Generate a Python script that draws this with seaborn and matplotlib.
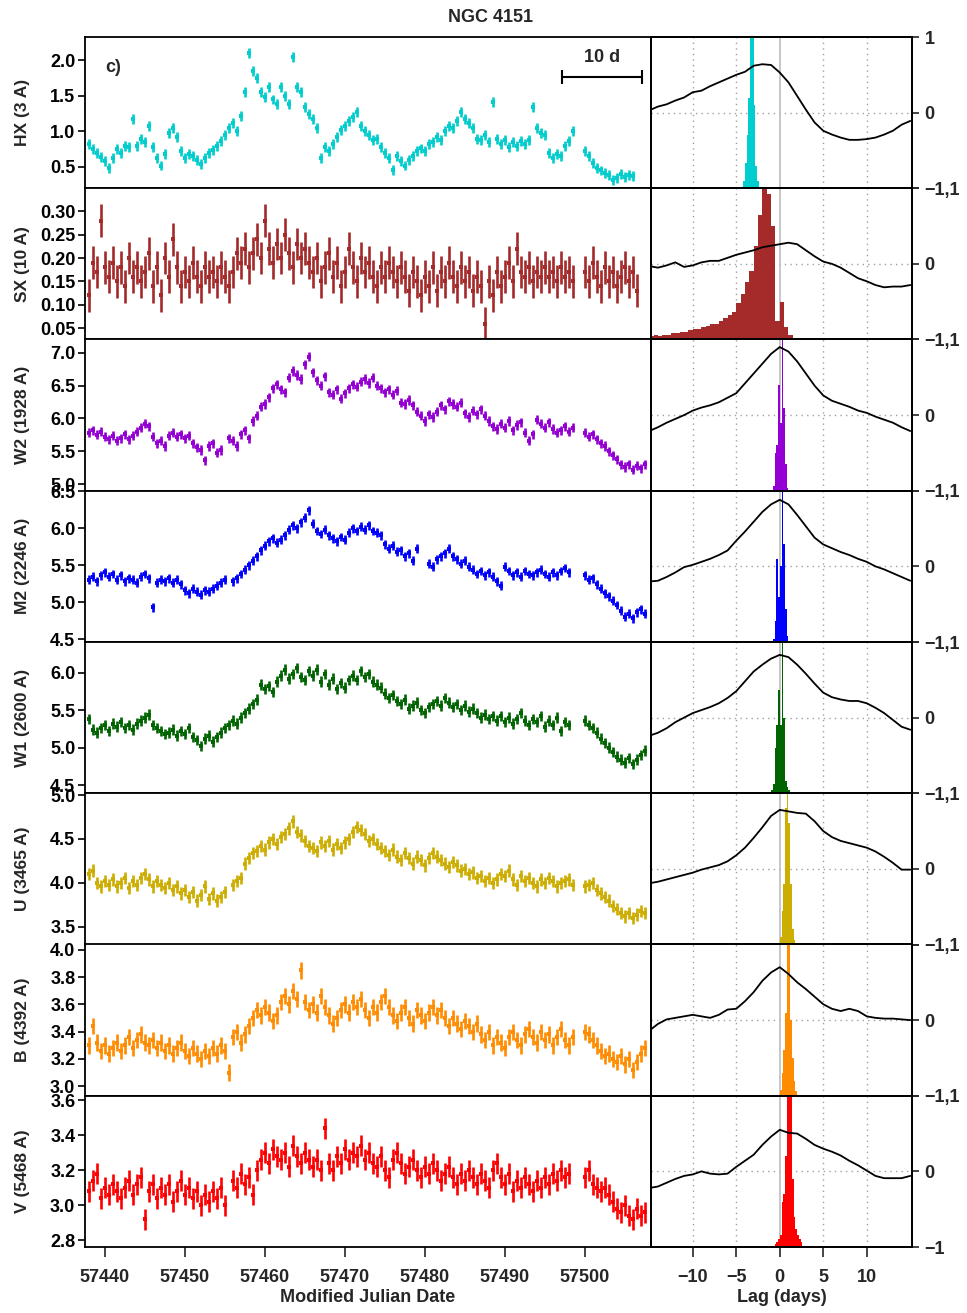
import numpy as np
import matplotlib
matplotlib.use("Agg")
import matplotlib.pyplot as plt
import seaborn as sns

NA = np.nan

# ---------------- data ----------------
MJD = [57438.0, 57438.5, 57439.0, 57439.5, 57440.0, 57440.5, 57441.0, 57441.5, 57442.0, 57442.5,
       57443.0, 57443.5, 57444.0, 57444.5, 57445.0, 57445.5, 57446.0, 57446.5, 57447.0, 57447.5,
       57448.0, 57448.5, 57449.0, 57449.5, 57450.0, 57450.5, 57451.0, 57451.5, 57452.0, 57452.5,
       57453.0, 57453.5, 57454.0, 57454.5, 57455.0, 57455.5, 57456.0, 57456.5, 57457.0, 57457.5,
       57458.0, 57458.5, 57459.0, 57459.5, 57460.0, 57460.5, 57461.0, 57461.5, 57462.0, 57462.5,
       57463.0, 57463.5, 57464.0, 57464.5, 57465.0, 57465.5, 57466.0, 57466.5, 57467.0, 57467.5,
       57468.0, 57468.5, 57469.0, 57469.5, 57470.0, 57470.5, 57471.0, 57471.5, 57472.0, 57472.5,
       57473.0, 57473.5, 57474.0, 57474.5, 57475.0, 57475.5, 57476.0, 57476.5, 57477.0, 57477.5,
       57478.0, 57478.5, 57479.0, 57479.5, 57480.0, 57480.5, 57481.0, 57481.5, 57482.0, 57482.5,
       57483.0, 57483.5, 57484.0, 57484.5, 57485.0, 57485.5, 57486.0, 57486.5, 57487.0, 57487.5,
       57488.0, 57488.5, 57489.0, 57489.5, 57490.0, 57490.5, 57491.0, 57491.5, 57492.0, 57492.5,
       57493.0, 57493.5, 57494.0, 57494.5, 57495.0, 57495.5, 57496.0, 57496.5, 57497.0, 57497.5,
       57498.0, 57498.5, 57499.0, 57499.5, 57500.0, 57500.5, 57501.0, 57501.5, 57502.0, 57502.5,
       57503.0, 57503.5, 57504.0, 57504.5, 57505.0, 57505.5, 57506.0, 57506.5, 57507.0, 57507.5]

HX = [0.82, 0.75, 0.70, 0.64, 0.58, 0.48, 0.62, 0.75, 0.70, 0.80,
      0.78, 1.18, 0.80, 0.90, 0.85, 1.08, 0.78, 0.62, 0.52, 0.68,
      0.98, 1.05, 0.92, 0.72, 0.62, 0.68, 0.66, 0.60, 0.54, 0.63,
      0.70, 0.74, 0.80, 0.86, 0.95, 1.05, 1.12, 1.00, 1.22, 1.55,
      2.10, 1.85, 1.75, 1.55, 1.48, 1.62, 1.45, 1.38, 1.62, 1.50,
      1.38, 2.05, 1.62, 1.55, 1.35, 1.25, 1.18, 1.05, 0.62, 0.78,
      0.72, 0.82, 0.92, 1.02, 1.08, 1.15, 1.20, 1.28, 1.08, 1.00,
      0.95, 0.88, 0.90, 0.78, 0.70, 0.62, 0.46, 0.65, 0.58, 0.52,
      0.60, 0.66, 0.72, 0.76, 0.72, 0.82, 0.85, 0.92, 0.88, 1.00,
      1.08, 1.05, 1.15, 1.28, 1.18, 1.12, 1.05, 0.90, 0.88, 0.95,
      0.85, 1.42, 0.90, 0.82, 0.88, 0.78, 0.85, 0.80, 0.86, 0.82,
      0.88, 1.35, 1.05, 0.98, 0.95, 0.70, 0.62, 0.68, 0.65, 0.80,
      0.86, 1.00, NA, NA, 0.72, 0.65, 0.55, 0.48, 0.45, 0.42,
      0.38, 0.32, 0.35, 0.40, 0.36, 0.38, 0.37, NA, NA, NA]

SX = [0.12, 0.19, 0.17, 0.28, 0.18, 0.16, 0.19, 0.15, 0.18, 0.14,
      0.20, 0.16, 0.18, 0.15, 0.17, 0.21, 0.14, 0.18, 0.12, 0.20,
      0.16, 0.24, 0.18, 0.14, 0.17, 0.15, 0.19, 0.16, 0.14, 0.18,
      0.16, 0.17, 0.15, 0.18, 0.16, 0.14, 0.17, 0.21, 0.19, 0.22,
      0.18, 0.21, 0.24, 0.20, 0.28, 0.22, 0.19, 0.23, 0.20, 0.25,
      0.21, 0.18, 0.23, 0.20, 0.22, 0.19, 0.17, 0.20, 0.15, 0.18,
      0.21, 0.16, 0.19, 0.14, 0.17, 0.22, 0.18, 0.15, 0.20, 0.17,
      0.19, 0.16, 0.14, 0.18, 0.16, 0.19, 0.17, 0.15, 0.18, 0.16,
      0.13, 0.17, 0.15, 0.12, 0.16, 0.14, 0.18, 0.13, 0.17, 0.15,
      0.19, 0.16, 0.14, 0.18, 0.15, 0.17, 0.13, 0.16, 0.14, 0.06,
      0.15, 0.12, 0.17, 0.14, 0.16, 0.19, 0.15, 0.22, 0.17, 0.16,
      0.18, 0.15, 0.17, 0.16, 0.18, 0.16, 0.17, 0.15, 0.18, 0.16,
      0.17, 0.15, NA, NA, 0.17, 0.15, 0.19, 0.16, 0.14, 0.18,
      0.15, 0.17, 0.14, 0.16, 0.18, 0.15, 0.17, 0.13, NA, NA]

W2 = [5.78, 5.82, 5.75, 5.80, 5.72, 5.68, 5.74, 5.66, 5.70, 5.76,
      5.68, 5.74, 5.80, 5.86, 5.92, 5.88, 5.72, 5.62, 5.66, 5.58,
      5.74, 5.78, 5.72, 5.76, 5.70, 5.74, 5.62, 5.56, 5.52, 5.36,
      5.58, 5.62, 5.48, 5.52, NA, 5.70, 5.66, 5.58, 5.76, 5.82,
      5.70, 5.96, 6.04, 6.18, 6.22, 6.32, 6.46, 6.52, 6.44, 6.40,
      6.62, 6.72, 6.66, 6.60, 6.82, 6.94, 6.70, 6.58, 6.50, 6.64,
      6.40, 6.36, 6.44, 6.30, 6.38, 6.46, 6.52, 6.48, 6.56, 6.60,
      6.54, 6.62, 6.50, 6.46, 6.40, 6.44, 6.36, 6.42, 6.24, 6.22,
      6.28, 6.20, 6.10, 6.04, 5.96, 6.06, 6.02, 6.10, 6.20, 6.14,
      6.26, 6.22, 6.18, 6.24, 6.08, 6.02, 6.12, 6.06, 6.14, 6.04,
      5.96, 5.88, 5.84, 5.92, 5.86, 5.96, 5.82, 5.90, 5.94, 5.78,
      5.66, 5.76, 5.98, 5.92, 5.86, 5.94, 5.84, 5.78, 5.82, 5.88,
      5.80, 5.86, NA, NA, 5.78, 5.72, 5.76, 5.68, 5.62, 5.58,
      5.50, 5.44, 5.38, 5.30, 5.26, 5.30, 5.22, 5.28, 5.24, 5.30]

M2 = [5.30, 5.34, 5.28, 5.36, 5.40, 5.34, 5.38, 5.30, 5.36, 5.28,
      5.32, 5.30, 5.26, 5.34, 5.38, 5.32, 4.93, 5.26, 5.30, 5.28,
      5.32, 5.26, 5.30, 5.24, 5.16, 5.12, 5.18, 5.14, 5.10, 5.16,
      5.14, 5.18, 5.22, 5.26, 5.30, NA, 5.28, 5.32, 5.38, 5.44,
      5.50, 5.56, 5.62, 5.70, 5.76, 5.82, 5.86, 5.80, 5.84, 5.90,
      5.98, 6.04, 6.00, 6.08, 6.14, 6.24, 6.06, 5.96, 5.92, 5.98,
      5.90, 5.86, 5.82, 5.88, 5.84, 5.94, 6.00, 5.96, 6.02, 5.98,
      6.04, 5.96, 5.94, 5.90, 5.78, 5.72, 5.76, 5.68, 5.70, 5.62,
      5.66, 5.56, 5.72, NA, NA, 5.52, 5.48, 5.58, 5.62, 5.66,
      5.72, 5.62, 5.58, 5.52, 5.56, 5.48, 5.44, 5.38, 5.42, 5.36,
      5.40, 5.34, 5.28, 5.22, 5.48, 5.42, 5.36, 5.40, 5.34, 5.42,
      5.38, 5.36, 5.40, 5.44, 5.38, 5.34, 5.40, 5.36, 5.42, 5.46,
      5.40, NA, NA, NA, 5.36, 5.30, 5.32, 5.24, 5.18, 5.12,
      5.08, 5.02, 4.96, 4.88, 4.80, 4.84, 4.78, 4.86, 4.90, 4.84]

W1 = [5.38, 5.24, 5.20, 5.26, 5.30, 5.22, 5.32, 5.28, 5.34, 5.26,
      5.30, 5.24, 5.32, 5.36, 5.40, 5.44, 5.30, 5.26, 5.22, 5.18,
      5.20, 5.24, 5.16, 5.22, 5.18, 5.26, 5.14, 5.10, 5.02, 5.12,
      5.16, 5.08, 5.14, 5.20, 5.26, 5.30, 5.36, 5.32, 5.40, 5.46,
      5.52, 5.58, 5.64, 5.84, 5.78, 5.82, 5.74, 5.88, 5.96, 6.04,
      5.92, 5.98, 6.06, 5.94, 5.90, 6.02, 5.96, 6.04, 5.88, 5.98,
      5.84, 5.92, 5.78, 5.86, 5.80, 5.90, 5.96, 5.90, 6.02, 5.94,
      5.98, 5.88, 5.84, 5.80, 5.72, 5.66, 5.70, 5.62, 5.58, 5.64,
      5.52, 5.56, 5.60, 5.50, 5.46, 5.54, 5.58, 5.62, 5.56, 5.66,
      5.60, 5.54, 5.58, 5.50, 5.56, 5.48, 5.52, 5.46, 5.40, 5.44,
      5.38, 5.42, 5.36, 5.42, 5.34, 5.40, 5.32, 5.38, 5.46, 5.36,
      5.30, 5.38, 5.34, 5.42, 5.28, 5.36, 5.30, 5.40, 5.22, 5.34,
      5.30, NA, NA, NA, 5.36, 5.30, 5.26, 5.20, 5.12, 5.06,
      5.00, 4.94, 4.88, 4.84, 4.80, 4.86, 4.78, 4.84, 4.90, 4.96]

U = [4.10, 4.14, 4.00, 3.96, 4.02, 3.98, 4.04, 3.96, 4.00, 4.06,
     3.94, 4.02, 3.98, 4.06, 4.10, 4.04, 3.96, 4.02, 3.98, 3.94,
     4.00, 3.92, 3.96, 3.88, 3.92, 3.84, 3.90, 3.80, 3.86, 3.96,
     3.82, 3.88, 3.80, 3.84, 3.90, NA, 3.98, 4.02, 4.06, 4.22,
     4.28, 4.34, 4.36, 4.42, 4.38, 4.46, 4.50, 4.44, 4.52, 4.56,
     4.62, 4.70, 4.58, 4.54, 4.48, 4.42, 4.40, 4.36, 4.46, 4.42,
     4.48, 4.38, 4.44, 4.40, 4.46, 4.50, 4.58, 4.64, 4.60, 4.56,
     4.48, 4.50, 4.44, 4.40, 4.36, 4.32, 4.38, 4.30, 4.26, 4.34,
     4.28, 4.22, 4.30, 4.26, 4.20, 4.28, 4.34, 4.30, 4.26, 4.22,
     4.18, 4.24, 4.20, 4.14, 4.16, 4.10, 4.12, 4.06, 4.08, 4.02,
     4.06, 4.00, 4.04, 4.10, 4.08, 4.14, 4.04, 3.98, 4.08, 4.02,
     4.06, 4.00, 3.96, 4.04, 4.00, 4.06, 4.02, 3.96, 4.00, 4.02,
     4.04, 3.98, NA, NA, 3.96, 3.98, 4.00, 3.92, 3.88, 3.84,
     3.80, 3.74, 3.70, 3.66, 3.62, 3.66, 3.60, 3.64, 3.68, 3.66]

B = [3.30, 3.44, 3.32, 3.26, 3.30, 3.24, 3.28, 3.32, 3.26, 3.30,
     3.36, 3.28, 3.34, 3.38, 3.32, 3.30, 3.34, 3.28, 3.32, 3.26,
     3.30, 3.24, 3.28, 3.32, 3.26, 3.22, 3.28, 3.24, 3.20, 3.26,
     3.22, 3.28, 3.24, 3.30, 3.26, 3.10, 3.36, 3.40, 3.32, 3.38,
     3.44, 3.50, 3.56, 3.52, 3.58, 3.54, 3.48, 3.52, 3.62, 3.66,
     3.60, 3.70, 3.64, 3.85, 3.62, 3.56, 3.60, 3.54, 3.66, 3.58,
     3.52, 3.46, 3.50, 3.56, 3.60, 3.54, 3.62, 3.58, 3.64, 3.56,
     3.50, 3.58, 3.54, 3.62, 3.66, 3.58, 3.52, 3.48, 3.54, 3.58,
     3.50, 3.46, 3.56, 3.52, 3.48, 3.54, 3.58, 3.52, 3.56, 3.50,
     3.44, 3.50, 3.46, 3.42, 3.48, 3.44, 3.40, 3.46, 3.38, 3.34,
     3.40, 3.30, 3.36, 3.32, 3.28, 3.36, 3.40, 3.34, 3.30, 3.38,
     3.42, 3.36, 3.32, 3.40, 3.34, 3.38, 3.30, 3.36, 3.42, 3.34,
     3.30, 3.36, NA, NA, 3.40, 3.38, 3.34, 3.30, 3.26, 3.22,
     3.24, 3.20, 3.18, 3.22, 3.16, 3.20, 3.12, 3.18, 3.24, 3.28]

V = [3.08, 3.14, 3.18, 3.04, 3.10, 3.06, 3.12, 3.08, 3.04, 3.10,
     3.14, 3.06, 3.12, 3.16, 2.92, 3.08, 3.12, 3.04, 3.10, 3.06,
     3.12, 3.02, 3.08, 3.14, 3.06, 3.10, 3.04, 3.08, 3.00, 3.06,
     3.02, 3.08, 3.04, 3.10, 3.00, NA, 3.14, 3.10, 3.18, 3.12,
     3.16, 3.06, 3.20, 3.26, 3.30, 3.24, 3.32, 3.28, 3.26, 3.30,
     3.22, 3.34, 3.28, 3.24, 3.30, 3.26, 3.22, 3.26, 3.20, 3.44,
     3.24, 3.20, 3.28, 3.24, 3.32, 3.26, 3.30, 3.28, 3.34, 3.26,
     3.30, 3.24, 3.22, 3.28, 3.20, 3.16, 3.26, 3.30, 3.24, 3.18,
     3.22, 3.26, 3.20, 3.16, 3.22, 3.18, 3.24, 3.20, 3.14, 3.18,
     3.22, 3.16, 3.12, 3.18, 3.14, 3.20, 3.16, 3.12, 3.18, 3.14,
     3.10, 3.20, 3.24, 3.16, 3.12, 3.18, 3.08, 3.14, 3.10, 3.16,
     3.12, 3.08, 3.14, 3.10, 3.16, 3.12, 3.18, 3.14, 3.20, 3.16,
     3.18, NA, NA, NA, 3.16, 3.20, 3.12, 3.10, 3.08, 3.10,
     3.06, 3.02, 2.98, 2.96, 3.00, 2.94, 2.92, 2.98, 2.94, 2.96]

FLUX_ERR = [0.07, 0.035, 0.07, 0.06, 0.07, 0.07, 0.06, 0.06]

LAGS = [-15, -14, -13, -12, -11, -10, -9, -8, -7, -6, -5, -4, -3, -2, -1, 0,
        1, 2, 3, 4, 5, 6, 7, 8, 9, 10, 11, 12, 13, 14, 15]

CCF_HX = [0.03, 0.08, 0.11, 0.16, 0.20, 0.27, 0.29, 0.35, 0.40, 0.45, 0.50, 0.54, 0.62, 0.64, 0.63, 0.53,
          0.40, 0.22, 0.04, -0.13, -0.24, -0.29, -0.33, -0.36, -0.36, -0.35, -0.33, -0.29, -0.24, -0.16, -0.11]
CCF_SX = [-0.03, -0.05, -0.02, 0.02, -0.04, -0.02, 0.02, 0.04, 0.04, 0.08, 0.12, 0.15, 0.18, 0.22, 0.24, 0.26,
          0.28, 0.26, 0.18, 0.10, 0.03, 0.00, -0.05, -0.12, -0.19, -0.23, -0.28, -0.31, -0.30, -0.30, -0.28]
CCF_W2 = [-0.21, -0.16, -0.10, -0.05, 0.00, 0.06, 0.10, 0.13, 0.17, 0.23, 0.29, 0.42, 0.55, 0.68, 0.81, 0.90,
          0.84, 0.71, 0.55, 0.39, 0.26, 0.19, 0.15, 0.11, 0.06, 0.03, -0.02, -0.06, -0.10, -0.16, -0.21]
CCF_M2 = [-0.20, -0.19, -0.14, -0.08, -0.01, 0.02, 0.06, 0.10, 0.15, 0.21, 0.34, 0.46, 0.59, 0.72, 0.82, 0.88,
          0.82, 0.68, 0.53, 0.38, 0.29, 0.24, 0.19, 0.15, 0.10, 0.06, 0.00, -0.04, -0.09, -0.14, -0.19]
CCF_W1 = [-0.24, -0.20, -0.14, -0.06, 0.00, 0.06, 0.10, 0.14, 0.19, 0.26, 0.35, 0.48, 0.61, 0.70, 0.78, 0.83,
          0.80, 0.70, 0.58, 0.45, 0.33, 0.27, 0.24, 0.22, 0.22, 0.19, 0.13, 0.06, -0.03, -0.12, -0.16]
CCF_U = [-0.19, -0.17, -0.14, -0.11, -0.08, -0.05, -0.01, 0.02, 0.05, 0.10, 0.18, 0.28, 0.41, 0.55, 0.70, 0.78,
         0.76, 0.74, 0.73, 0.63, 0.50, 0.42, 0.37, 0.34, 0.31, 0.28, 0.23, 0.16, 0.08, -0.01, -0.01]
CCF_B = [-0.14, -0.05, 0.01, 0.03, 0.05, 0.07, 0.05, 0.03, 0.07, 0.14, 0.15, 0.25, 0.37, 0.52, 0.63, 0.70,
         0.61, 0.50, 0.41, 0.31, 0.21, 0.15, 0.12, 0.15, 0.12, 0.05, 0.03, 0.02, 0.02, 0.01, 0.00]
CCF_V = [-0.22, -0.20, -0.15, -0.10, -0.06, -0.04, 0.00, -0.03, -0.04, -0.03, 0.06, 0.14, 0.22, 0.35, 0.46, 0.55,
         0.51, 0.50, 0.43, 0.35, 0.30, 0.26, 0.21, 0.14, 0.08, 0.01, -0.06, -0.09, -0.09, -0.09, -0.06]

# lag-centroid histograms: first bin edge, bin width, relative heights (1 = panel top)
HIST_START = [-4.2, -15.0, -0.8, -0.8, -1.0, 0.0, 0.0, -0.6]
HIST_WIDTH = [0.2, 0.5, 0.2, 0.2, 0.2, 0.2, 0.2, 0.2]
HIST_HX = [0.05, 0.17, 0.35, 0.60, 1.30, 1.30, 0.55, 0.15, 0.05]
HIST_SX = [0.02, 0.03, 0.02, 0.03, 0.03, 0.04, 0.04, 0.05, 0.05, 0.06, 0.07, 0.07, 0.08, 0.09, 0.10, 0.10, 0.12,
           0.14, 0.16, 0.18, 0.24, 0.30, 0.38, 0.45, 0.62, 0.82, 1.00, 0.96, 0.75, 0.12, 0.25, 0.08, 0.03, 0.01]
HIST_W2 = [0.03, 0.25, 0.30, 0.70, 0.45, 1.20, 0.55, 0.18, 0.02]
HIST_M2 = [0.02, 0.14, 0.55, 0.30, 0.50, 1.20, 0.65, 0.22, 0.04]
HIST_W1 = [0.02, 0.06, 0.30, 0.45, 0.68, 0.45, 1.20, 0.50, 0.08, 0.04, 0.02]
HIST_U = [0.05, 0.22, 0.40, 0.90, 1.20, 0.80, 0.40, 0.10, 0.03]
HIST_B = [0.04, 0.15, 0.30, 0.55, 1.20, 1.00, 0.50, 0.25, 0.10, 0.03]
HIST_V = [0.02, 0.03, 0.05, 0.08, 0.30, 0.35, 0.60, 1.20, 1.20, 1.00, 0.45, 0.20, 0.12, 0.08, 0.05, 0.03]

YLABELS = ["HX (3 A)", "SX (10 A)", "W2 (1928 A)", "M2 (2246 A)", "W1 (2600 A)",
           "U (3465 A)", "B (4392 A)", "V (5468 A)"]
YTICKS = [[0.5, 1.0, 1.5, 2.0],
          [0.05, 0.10, 0.15, 0.20, 0.25, 0.30],
          [5.0, 5.5, 6.0, 6.5, 7.0],
          [4.5, 5.0, 5.5, 6.0, 6.5],
          [4.5, 5.0, 5.5, 6.0],
          [3.5, 4.0, 4.5, 5.0],
          [3.0, 3.2, 3.4, 3.6, 3.8, 4.0],
          [2.8, 3.0, 3.2, 3.4, 3.6]]
MJD_TICKS = [57440, 57450, 57460, 57470, 57480, 57490, 57500]
LAG_TICKS = [-10, -5, 0, 5, 10]

# ---------------- styling ----------------
COLORS = ["#00CDCD", "#A52A2A", "#9400D3", "#0000FF", "#006400", "#CDAD00", "#FF8C00", "#FF0000"]
YLIMS = [(0.20, 2.33), (0.026, 0.349), (4.90, 7.20), (4.46, 6.505),
         (4.39, 6.41), (3.30, 5.02), (2.93, 4.04), (2.76, 3.627)]
YFMT = ["%.1f", "%.2f", "%.1f", "%.1f", "%.1f", "%.1f", "%.1f", "%.1f"]

FLUX = [HX, SX, W2, M2, W1, U, B, V]
CCFS = [CCF_HX, CCF_SX, CCF_W2, CCF_M2, CCF_W1, CCF_U, CCF_B, CCF_V]
HISTS = [HIST_HX, HIST_SX, HIST_W2, HIST_M2, HIST_W1, HIST_U, HIST_B, HIST_V]

sns.set_style("ticks")
plt.rcParams['font.family'] = ['Liberation Sans Narrow', 'Liberation Sans', 'DejaVu Sans']
plt.rcParams['font.weight'] = 'bold'
plt.rcParams['axes.labelweight'] = 'bold'
plt.rcParams['axes.linewidth'] = 1.3
plt.rcParams['xtick.major.width'] = 1.2
plt.rcParams['ytick.major.width'] = 1.2

W, H = 967, 1313
fig = plt.figure(figsize=(W / 100, H / 100), dpi=100)
gs = fig.add_gridspec(8, 2, left=85 / W, right=912 / W, top=1 - 37 / H, bottom=1 - 1247 / H,
                      hspace=0, wspace=0, width_ratios=[566, 261])

TXT = 13
n = len(FLUX)
for r in range(n):
    col = COLORS[r]
    # ---- light curve ----
    axl = fig.add_subplot(gs[r, 0])
    y = np.array(FLUX[r], dtype=float)
    x = np.array(MJD, dtype=float)
    ok = ~np.isnan(y)
    axl.errorbar(x[ok], y[ok], yerr=FLUX_ERR[r], fmt='none', ecolor=col, elinewidth=1.9, capsize=0)
    sns.scatterplot(x=x[ok], y=y[ok], ax=axl, color=col, marker='s', s=6, linewidth=0, legend=False)
    axl.set_xlim(57437.5, 57508.3)
    axl.set_ylim(*YLIMS[r])
    axl.set_yticks(YTICKS[r])
    axl.set_yticklabels([YFMT[r] % v for v in YTICKS[r]])
    axl.tick_params(axis='y', direction='out', length=5, labelsize=TXT, pad=2, colors='black')
    axl.set_ylabel(YLABELS[r], fontsize=12.5)
    axl.yaxis.set_label_coords(-0.098, 0.5)
    for s in axl.spines.values():
        s.set_visible(True)
        s.set_color('black')
    if r < n - 1:
        axl.tick_params(axis='x', bottom=False, labelbottom=False)
    else:
        axl.set_xticks(MJD_TICKS)
        axl.set_xticklabels([str(t) for t in MJD_TICKS])
        axl.tick_params(axis='x', direction='out', length=7, labelsize=TXT, pad=9)
        axl.set_xlabel("Modified Julian Date", fontsize=TXT, labelpad=2)

    if r == 0:
        axl.text(0.035, 0.80, "c)", transform=axl.transAxes, fontsize=TXT, ha='left', va='center')
        axl.plot([57497.2, 57507.2], [1.77, 1.77], color='black', lw=1.5)
        axl.plot([57497.2, 57507.2], [1.77, 1.77], color='black', lw=0, marker='|', ms=10, mew=1.5)
        axl.text(57502.2, 2.04, "10 d", fontsize=TXT, ha='center', va='center')

    # ---- lag histogram + CCF ----
    axh = fig.add_subplot(gs[r, 1])
    axh.set_xlim(-14.8, 15.2)
    axh.set_ylim(0, 1)
    for gx in [-10, -5, 5, 10]:
        axh.axvline(gx, color='#A0A0A0', lw=1.0, ls=(0, (1, 3)), zorder=0)
    axh.axhline(0.5, color='#A0A0A0', lw=1.0, ls=(0, (1, 3)), zorder=0)
    axh.axvline(0, color='#BDBDBD', lw=1.2, zorder=0.5)
    hv = HISTS[r]
    edges = [HIST_START[r] + HIST_WIDTH[r] * k for k in range(len(hv) + 1)]
    centers = [0.5 * (edges[k] + edges[k + 1]) for k in range(len(hv))]
    sns.histplot(x=centers, weights=hv, bins=edges, ax=axh, element='step', fill=True,
                 color=col, alpha=1.0, linewidth=0, zorder=2)
    axh.set_ylim(0, 1)
    axh.set_ylabel('')
    axh.set_yticks([])
    axh.tick_params(axis='y', left=False, labelleft=False)
    for s in axh.spines.values():
        s.set_visible(True)
        s.set_color('black')

    axc = axh.twinx()
    sns.lineplot(x=LAGS, y=CCFS[r], ax=axc, color='black', lw=1.3, zorder=3)
    axc.set_ylim(-1, 1)
    axc.set_xlim(-14.8, 15.2)
    axc.set_yticks([-1, 0, 1])
    if r == 0:
        labs = ["\u22121,1", "0", "1"]
    elif r == n - 1:
        labs = ["\u22121", "0", ""]
    else:
        labs = ["\u22121,1", "0", ""]
    axc.set_yticklabels(labs)
    axc.tick_params(axis='y', direction='out', length=5, labelsize=TXT, pad=4, right=True)
    axc.set_ylabel('')
    for s in axc.spines.values():
        s.set_visible(True)
        s.set_color('black')

    if r < n - 1:
        axh.tick_params(axis='x', bottom=False, labelbottom=False)
        axc.tick_params(axis='x', bottom=False, labelbottom=False)
    else:
        axh.set_xticks(LAG_TICKS)
        axh.set_xticklabels([("\u2212%d" % -t) if t < 0 else str(t) for t in LAG_TICKS])
        axh.tick_params(axis='x', direction='out', length=7, labelsize=TXT, pad=9)
        axh.set_xlabel("Lag (days)", fontsize=TXT, labelpad=2)

fig.text(0.507, 1 - 18 / H, "NGC 4151", ha='center', va='center', fontsize=TXT, fontweight='bold')

fig.savefig("out.png", dpi=100)
